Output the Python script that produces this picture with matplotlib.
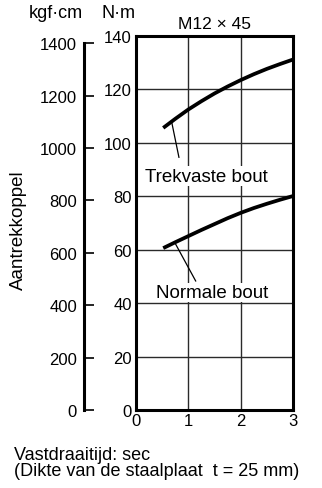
import numpy as np
import matplotlib.pyplot as plt

plt.rcParams['font.family'] = ['Liberation Sans', 'DejaVu Sans']

# torque vs. tightening time, N·m
t = [0.52, 0.75, 1.0, 1.25, 1.5, 1.75, 2.0, 2.25, 2.5, 2.75, 3.0]
trekvast = [105.6, 109.0, 112.5, 115.6, 118.5, 121.1, 123.5, 125.7, 127.7, 129.5, 131.2]
normaal = [60.6, 62.8, 65.1, 67.4, 69.6, 71.8, 73.8, 75.6, 77.2, 78.7, 80.1]

nm_ticks = [0, 20, 40, 60, 80, 100, 120, 140]
kgf_ticks = [0, 200, 400, 600, 800, 1000, 1200, 1400]
x_ticks = [0, 1, 2, 3]

KGF = 0.0980665  # N·m per kgf·cm

fig = plt.figure(figsize=(3.22, 4.89), dpi=100)
ax = fig.add_axes([0.4224, 0.1595, 0.4876, 0.7648])

ax.set_xlim(0, 3)
ax.set_ylim(0, 140)
ax.set_xticks(x_ticks)
ax.set_yticks(nm_ticks)
ax.grid(True, color='#2a2a2a', lw=1.0)
ax.tick_params(length=0, labelsize=12, pad=3)
ax.tick_params(axis='x', pad=2)
for s in ax.spines.values():
    s.set_linewidth(2.2)

for series in (trekvast, normaal):
    ax.plot(t, series, color='black', lw=2.7, solid_capstyle='butt',
            solid_joinstyle='round', zorder=3)


def leader(series, x0, x1, y1):
    y0 = np.interp(x0, t, series)
    ax.plot([x0, x1], [y0, y1], color='black', lw=0.9, zorder=3)


leader(trekvast, 0.68, 0.82, 94.6)
leader(normaal, 0.74, 1.14, 48.3)

box = dict(fc='white', ec='none', pad=1)
ax.text(1.35, 87.5, 'Trekvaste bout', ha='center', va='center', fontsize=13.5,
        bbox=box, zorder=4)
ax.text(1.45, 44.0, 'Normale bout', ha='center', va='center', fontsize=13.5,
        bbox=box, zorder=4)

ax.set_title('M12 × 45', fontsize=12.5, pad=6)

# second scale in kgf·cm on the left
kg = ax.twinx()
kg.set_ylim(0, 140 / KGF)
kg.set_yticks(kgf_ticks)
kg.yaxis.set_ticks_position('left')
kg.spines['left'].set_position(('axes', -0.331))
kg.spines['left'].set_bounds(0, 1400)
kg.spines['left'].set_linewidth(2.2)
for side in ['right', 'top', 'bottom']:
    kg.spines[side].set_visible(False)
kg.tick_params(axis='y', direction='in', length=7, width=1.2, labelsize=12, pad=5)

fig.text(0.172, 0.972, 'kgf·cm', ha='center', va='center', fontsize=13)
fig.text(0.367, 0.972, 'N·m', ha='center', va='center', fontsize=13)
fig.text(0.058, 0.53, 'Aantrekkoppel', rotation=90, ha='center', va='center', fontsize=13.5)
fig.text(0.045, 0.052, 'Vastdraaitijd: sec\n(Dikte van de staalplaat  t = 25 mm)',
         ha='left', va='center', fontsize=13, linespacing=0.95)

fig.savefig('out.png', dpi=100)
